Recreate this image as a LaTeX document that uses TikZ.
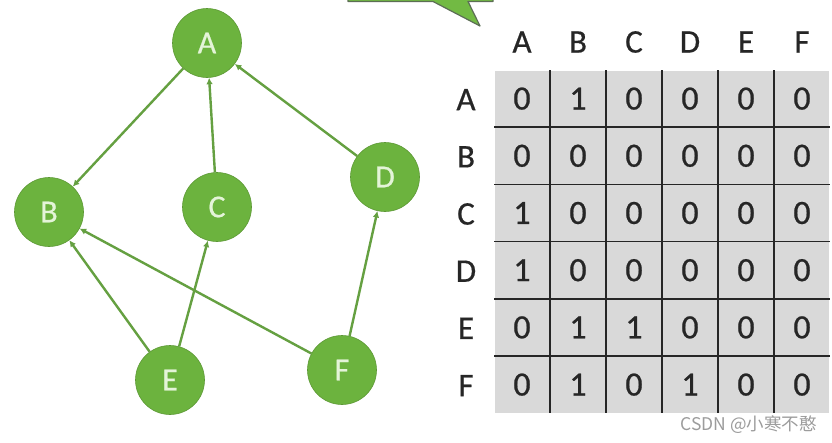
\documentclass[tikz,border=0pt]{standalone}
\usepackage{fontspec}
\setmainfont{Carlito}
\newfontfamily\labelfont[FakeBold=0.6]{Carlito}
\newfontfamily\cjkfont{Noto Sans CJK SC}
\usetikzlibrary{arrows.meta}
\definecolor{nodegreen}{HTML}{6CB33E}
\definecolor{edgegreen}{HTML}{65A041}
\definecolor{lettergreen}{HTML}{E4F4D8}
\definecolor{bubblegreen}{HTML}{72BA43}
\definecolor{bubbleedge}{HTML}{5C6E55}
\definecolor{cellgray}{HTML}{D9D9D9}
\definecolor{markgray}{HTML}{9C9C9C}
\tikzset{
  vertex/.style={circle, fill=nodegreen, draw=nodegreen!85!black, line width=0.6pt,
    minimum size=69pt, inner sep=0pt, text=lettergreen,
    font=\labelfont\fontsize{32}{34}\selectfont},
  edge/.style={draw=edgegreen, line width=2.4pt,
    -{Latex[length=6.5pt,width=6.5pt]}},
  cell/.style={rectangle, fill=cellgray, draw=white, line width=1.2pt,
    minimum width=56pt, minimum height=57.2pt, inner sep=0pt, text=black!85,
    font=\labelfont\fontsize{34}{36}\selectfont},
  headlabel/.style={inner sep=0pt, text=black!85, font=\labelfont\fontsize{33}{35}\selectfont},
  gridline/.style={draw=black!85, line width=1.6pt},
}
\begin{document}
\begin{tikzpicture}[x=1pt, y=-1pt]
\useasboundingbox (0,0) rectangle (832,442);
\fill[white] (0,0) rectangle (832,442);
% speech bubble fragment
\draw[fill=bubblegreen, draw=bubbleedge, line width=1.2pt, line join=round]
  (348,-6) -- (348,1.5) -- (433,1.5) -- (480,26) -- (468,1.5) -- (493,1.5) -- (493,-6);
% graph
\node[vertex] (A) at (207,43) {A};
\node[vertex] (B) at (49,212) {B};
\node[vertex] (C) at (217,207) {C};
\node[vertex] (D) at (385,177) {D};
\node[vertex] (E) at (170,380) {E};
\node[vertex] (F) at (342,370) {F};
\draw[edge] (A) -- (B);
\draw[edge] (C) -- (A);
\draw[edge] (D) -- (A);
\draw[edge] (E) -- (B);
\draw[edge] (E) -- (C);
\draw[edge] (F) -- (B);
\draw[edge] (F) -- (D);
% matrix
\foreach \c [count=\i from 0] in {A,B,C,D,E,F} {
  \node[headlabel] (h\c) at ({522+56*\i},42) {\c};
  \node[headlabel] (r\c) at (466,{99.6+57.2*\i}) {\c};
}
\foreach \r/\vals [count=\j from 0] in {A/{0,1,0,0,0,0},B/{0,0,0,0,0,0},C/{1,0,0,0,0,0},D/{1,0,0,0,0,0},E/{0,1,1,0,0,0},F/{0,1,0,1,0,0}} {
  \foreach \v [count=\i from 0] in \vals {
    \node[cell] (m\r\i) at ({522+56*\i},{98.6+57.2*\j}) {\v};
  }
}
\foreach \i in {1,...,5} {
  \draw[gridline] ({494+56*\i},70) -- ({494+56*\i},413.2);
  \draw[gridline] (494,{70+57.2*\i}) -- (830,{70+57.2*\i});
}
% watermark
\node[text=markgray, inner sep=0pt, anchor=east, font=\cjkfont\fontsize{17.5}{19}\selectfont] (wm) at (817,425) {CSDN @小寒不憨};
\end{tikzpicture}
\end{document}
